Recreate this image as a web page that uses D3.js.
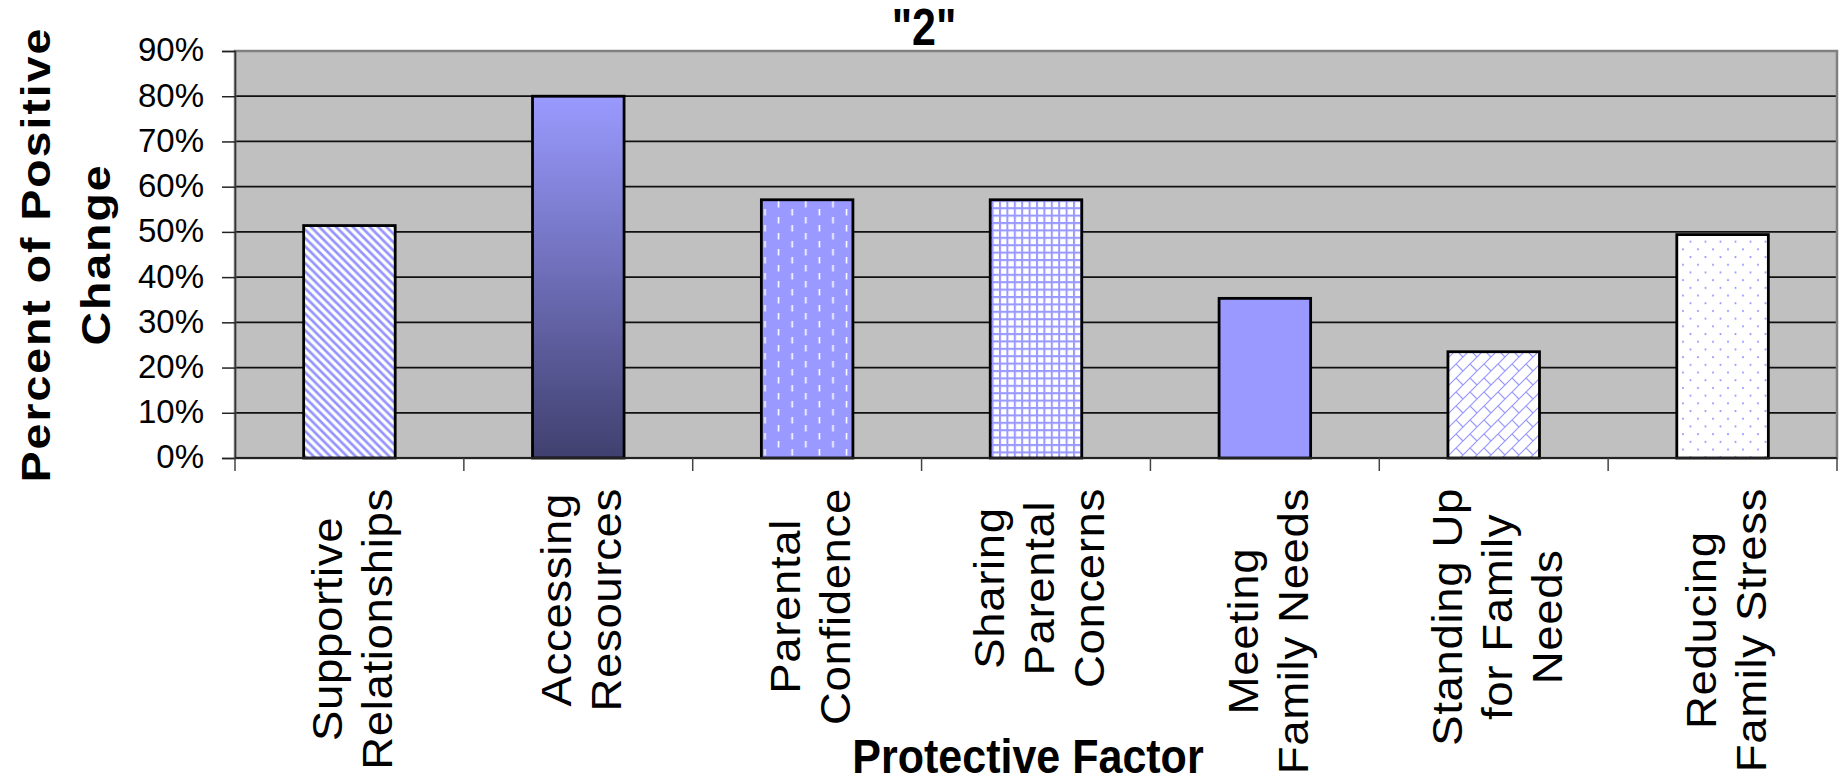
<!DOCTYPE html>
<html>
<head>
<meta charset="utf-8">
<script src="https://cdn.jsdelivr.net/npm/d3@7"></script>
<style>
  html, body { margin: 0; padding: 0; background: #fff; }
  svg { display: block; }
</style>
</head>
<body>
<svg id="chart" width="1845" height="784"></svg>
<script>
// ---- data ----
const categories = [
  "Supportive Relationships",
  "Accessing Resources",
  "Parental Confidence",
  "Sharing Parental Concerns",
  "Meeting Family Needs",
  "Standing Up for Family Needs",
  "Reducing Family Stress"
];
const categoryLines = [
  ["Supportive", "Relationships"],
  ["Accessing", "Resources"],
  ["Parental", "Confidence"],
  ["Sharing", "Parental", "Concerns"],
  ["Meeting", "Family Needs"],
  ["Standing Up", "for Family", "Needs"],
  ["Reducing", "Family Stress"]
];
const positiveChange = [0.514, 0.800, 0.571, 0.571, 0.353, 0.235, 0.494];
const yTicks = [0, 0.1, 0.2, 0.3, 0.4, 0.5, 0.6, 0.7, 0.8, 0.9];
const chartTitle = "\"2\"";
const xTitle = "Protective Factor";
const yTitleLines = ["Percent of Positive", "Change"];

// ---- styles ----
const barFills = ["url(#p-diag)", "url(#g-dark)", "url(#p-dashv)", "url(#p-grid)", "#9999ff", "url(#p-brick)", "url(#p-dots)"];
const FONT = "'Liberation Sans', Arial, Helvetica, sans-serif";
const STRETCH = 1.13;

const plot = { left: 235, right: 1837, top: 51, bottom: 458 };

const svg = d3.select("#chart");
const defs = svg.append("defs");

// wide downward diagonal stripes
{
  const s = 8.4;
  const p = defs.append("pattern").attr("id", "p-diag").attr("patternUnits", "userSpaceOnUse")
    .attr("width", s).attr("height", s);
  p.append("rect").attr("width", s).attr("height", s).attr("fill", "#fff");
  p.append("path").attr("d", `M${-s},0L${s},${2*s}M0,${-s}L${2*s},${s}M${-s},${-s}L${2*s},${2*s}`)
    .attr("stroke", "#9494ff").attr("stroke-width", 2.7);
}
// vertical gradient
{
  const g = defs.append("linearGradient").attr("id", "g-dark")
    .attr("x1", 0).attr("y1", 0).attr("x2", 0).attr("y2", 1);
  g.append("stop").attr("offset", "0%").attr("stop-color", "#9a9aff");
  g.append("stop").attr("offset", "100%").attr("stop-color", "#40406f");
}
// dashed vertical
{
  const w = 27.2, h = 16;
  const p = defs.append("pattern").attr("id", "p-dashv").attr("patternUnits", "userSpaceOnUse")
    .attr("width", w).attr("height", h);
  p.append("rect").attr("width", w).attr("height", h).attr("fill", "#9999ff");
  p.append("path").attr("d", `M3.4,1L3.4,7.5M17,9L17,15.5`)
    .attr("stroke", "#fff").attr("stroke-width", 1.6);
}
// small grid
{
  const s = 7.4;
  const p = defs.append("pattern").attr("id", "p-grid").attr("patternUnits", "userSpaceOnUse")
    .attr("width", s).attr("height", s);
  p.append("rect").attr("width", s).attr("height", s).attr("fill", "#fff");
  p.append("path").attr("d", `M1,0L1,${s}M0,1L${s},1`)
    .attr("stroke", "#9999ff").attr("stroke-width", 2);
}
// diagonal brick
{
  const s = 14;
  const p = defs.append("pattern").attr("id", "p-brick").attr("patternUnits", "userSpaceOnUse")
    .attr("width", s).attr("height", s);
  p.append("rect").attr("width", s).attr("height", s).attr("fill", "#fff");
  p.append("path").attr("d", `M${-s},${s}L${s},${-s}M0,${2*s}L${2*s},0M0,${s}L${s},0M0,0L${s/2},${s/2}`)
    .attr("stroke", "#9999ff").attr("stroke-width", 1.2).attr("fill", "none");
}
// sparse dots
{
  const w = 15, h = 15.4;
  const p = defs.append("pattern").attr("id", "p-dots").attr("patternUnits", "userSpaceOnUse")
    .attr("width", w).attr("height", h);
  p.append("rect").attr("width", w).attr("height", h).attr("fill", "#fff");
  p.append("circle").attr("cx", 3).attr("cy", 3).attr("r", 1.1).attr("fill", "#9a9aff");
  p.append("circle").attr("cx", 10.5).attr("cy", 10.7).attr("r", 1.1).attr("fill", "#9a9aff");
}

// ---- scales ----
const x = d3.scaleBand().domain(categories).range([plot.left, plot.right])
  .paddingInner(0.6).paddingOuter(0.3);
const y = d3.scaleLinear().domain([0, 0.9]).range([plot.bottom, plot.top]);
const step = x.step();

// plot background
svg.append("rect")
  .attr("x", plot.left).attr("y", plot.top)
  .attr("width", plot.right - plot.left).attr("height", plot.bottom - plot.top)
  .attr("fill", "#c0c0c0");

// gridlines
svg.append("g").selectAll("line").data(yTicks.slice(1, -1)).join("line")
  .attr("x1", plot.left).attr("x2", plot.right)
  .attr("y1", d => y(d)).attr("y2", d => y(d))
  .attr("stroke", "#111").attr("stroke-width", 1.8);

// plot border
svg.append("rect")
  .attr("x", plot.left).attr("y", plot.top)
  .attr("width", plot.right - plot.left).attr("height", plot.bottom - plot.top)
  .attr("fill", "none").attr("stroke", "#808080").attr("stroke-width", 2.5);

// y axis
const yAxis = d3.axisLeft(y).tickValues(yTicks).tickFormat(d3.format(".0%"))
  .tickSize(13).tickPadding(18);
const gy = svg.append("g").attr("transform", `translate(${plot.left},0)`).call(yAxis);
gy.select(".domain").attr("stroke", "#333").attr("stroke-width", 1.5);
gy.selectAll(".tick line").attr("stroke", "#222").attr("stroke-width", 1.5);
gy.selectAll(".tick text")
  .attr("font-family", FONT).attr("font-size", 33).attr("fill", "#000")
  .attr("dy", "0.3em");

// bars
svg.append("g").selectAll("rect").data(categories).join("rect")
  .attr("x", d => x(d))
  .attr("y", (d, i) => y(positiveChange[i]))
  .attr("width", x.bandwidth())
  .attr("height", (d, i) => y(0) - y(positiveChange[i]))
  .attr("fill", (d, i) => barFills[i])
  .attr("stroke", "#000").attr("stroke-width", 2.8);

// category axis line and ticks at band boundaries
svg.append("line")
  .attr("x1", plot.left).attr("x2", plot.right)
  .attr("y1", y(0)).attr("y2", y(0))
  .attr("stroke", "#222").attr("stroke-width", 2);
const boundaries = categories.map(c => x(c) - step * x.paddingOuter()).concat([plot.right]);
svg.append("g").selectAll("line").data(boundaries).join("line")
  .attr("x1", d => d).attr("x2", d => d)
  .attr("y1", y(0)).attr("y2", y(0) + 13)
  .attr("stroke", "#444").attr("stroke-width", 1.5);

// rotated category labels, lines centred on the longest one
const labelTop = 488;
const lineGap = 50;
categoryLines.forEach((lines, i) => {
  const cx = x(categories[i]) + x.bandwidth() / 2;
  const g = svg.append("g")
    .attr("transform", `translate(${cx},${labelTop}) scale(1,${STRETCH * 0.96}) rotate(-90)`);
  const n = lines.length;
  const texts = g.selectAll("text").data(lines).join("text")
    .attr("font-family", FONT).attr("font-size", 42).attr("letter-spacing", 0.6)
    .attr("text-anchor", "middle").attr("fill", "#000")
    .attr("y", (d, j) => 18 + (j - (n - 1) / 2) * lineGap)
    .text(d => d);
  let maxLen = 0;
  texts.each(function () { maxLen = Math.max(maxLen, this.getComputedTextLength()); });
  texts.attr("x", -maxLen / 2);
});

// axis titles
svg.append("text")
  .attr("transform", `translate(${(plot.left + plot.right) / 2 - 8},773) scale(1,${STRETCH})`)
  .attr("text-anchor", "middle")
  .attr("font-family", FONT).attr("font-size", 43).attr("font-weight", "bold")
  .text(xTitle);

const yt = svg.append("g")
  .attr("transform", `translate(0,${(plot.top + plot.bottom) / 2}) scale(1,${STRETCH}) rotate(-90)`);
yt.selectAll("text").data(yTitleLines).join("text")
  .attr("x", 0).attr("y", (d, j) => 50 + j * 60)
  .attr("text-anchor", "middle")
  .attr("font-family", FONT).attr("font-size", 41).attr("font-weight", "bold")
  .attr("letter-spacing", 1.8)
  .text(d => d);

// chart title
svg.append("text")
  .attr("transform", `translate(924,45) scale(1,${STRETCH * 1.05})`)
  .attr("text-anchor", "middle")
  .attr("font-family", FONT).attr("font-size", 43).attr("font-weight", "bold")
  .text(chartTitle);
</script>
</body>
</html>
